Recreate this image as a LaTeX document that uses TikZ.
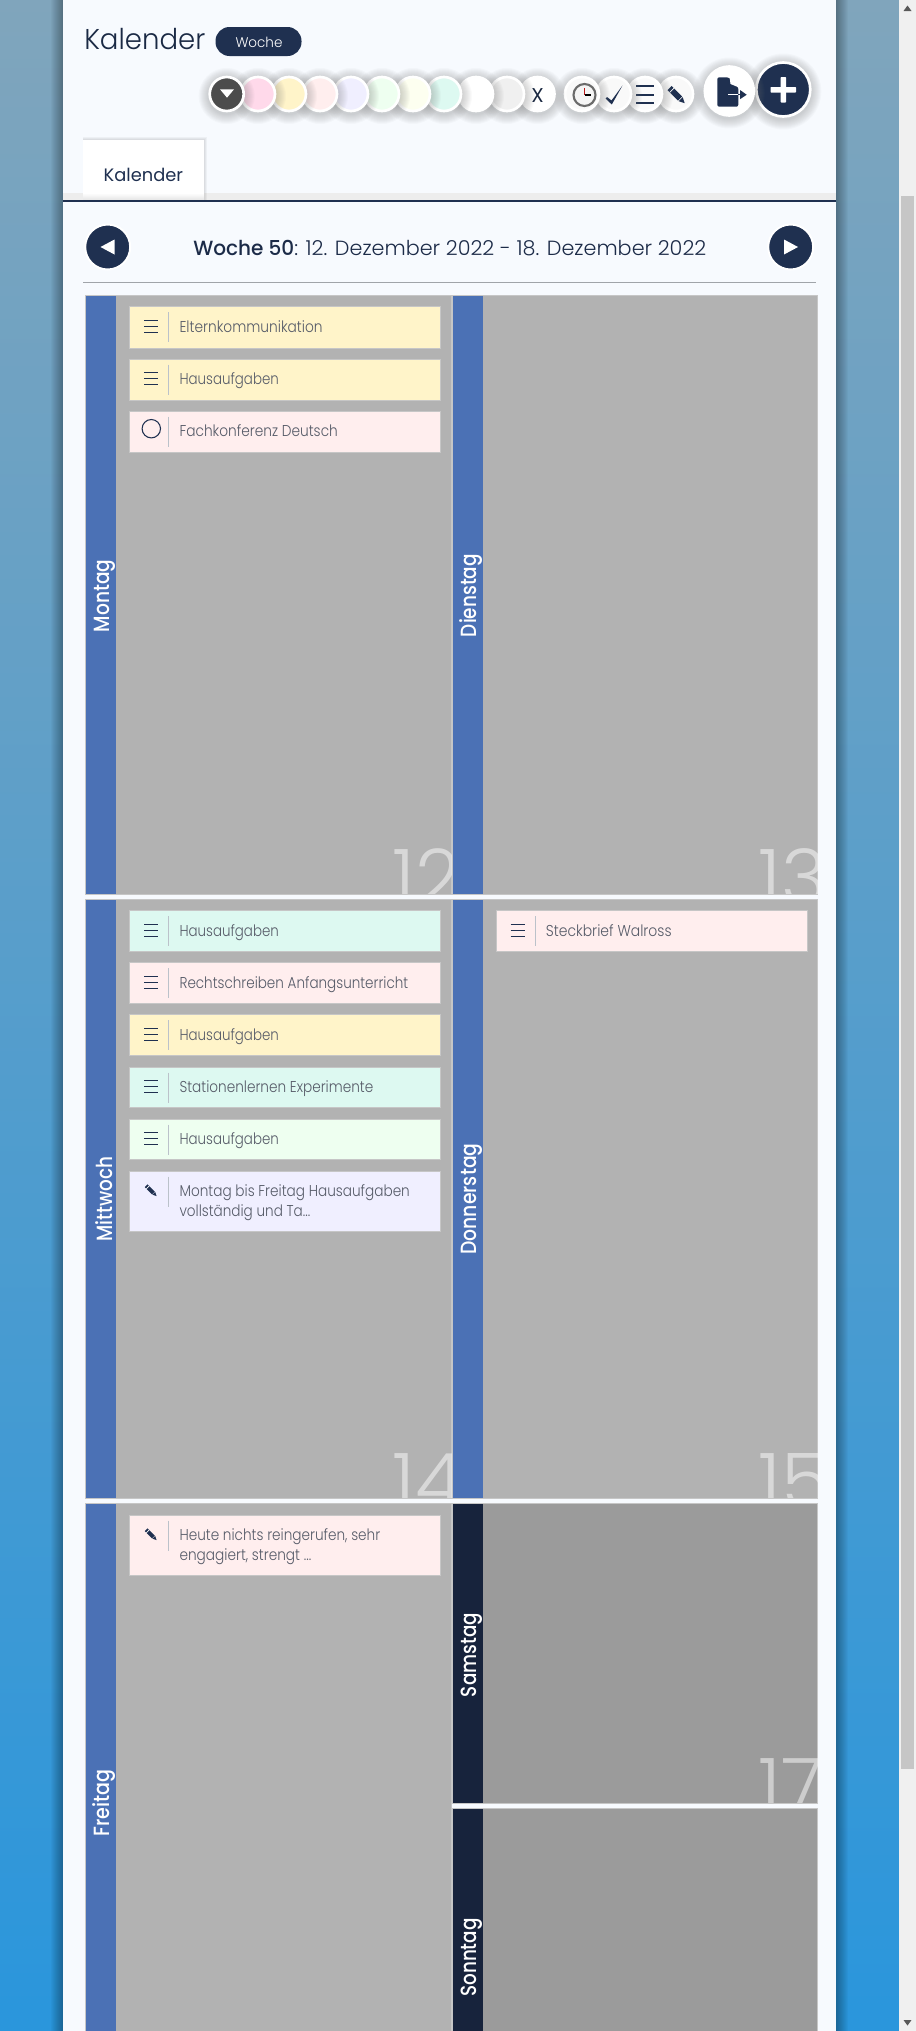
\documentclass[tikz,border=0pt]{standalone}
\usepackage{fontspec}
\usepackage{graphicx}
\setmainfont{Poppins}
\newfontfamily\fl{Poppins Light}
\newfontfamily\fm{Poppins Medium}
\newdimen\pxu \pxu=0.75pt
\newcommand\tw[2]{\resizebox{#1\pxu}{\height}{#2}}
\definecolor{navy}{HTML}{1F3050}
\definecolor{navyd}{HTML}{17233C}
\definecolor{panel}{HTML}{F7FAFE}
\definecolor{bgtop}{HTML}{80A5BC}
\definecolor{bgbot}{HTML}{2A96DC}
\definecolor{sbar}{HTML}{4B71B5}
\definecolor{cellg}{HTML}{B2B2B2}
\definecolor{cellw}{HTML}{9B9B9B}
\definecolor{cellb}{HTML}{C6C6C6}
\definecolor{cyellow}{HTML}{FFF4C9}
\definecolor{crose}{HTML}{FFEEEE}
\definecolor{cteal}{HTML}{DDF9F1}
\definecolor{cmint}{HTML}{EEFFF0}
\definecolor{clav}{HTML}{F0EFFF}
\definecolor{cpink}{HTML}{FFD9EA}
\definecolor{ccream}{HTML}{FDFFF0}
\definecolor{itxt}{HTML}{565B68}
\definecolor{HTMLdiv}{HTML}{BBC2CA}
\tikzset{
  itemb/.style={anchor=north west,inner sep=0pt,draw=cellb,line width=.75pt},
  itxtn/.style={anchor=base west,inner sep=0pt,text=itxt,font=\fl\fontsize{11.8}{13}\selectfont},
  side/.style={rotate=90,inner sep=0pt,text=white,font=\fm\fontsize{16.5}{18}\selectfont},
  digit/.style={anchor=base west,inner sep=0pt,text=white,text opacity=.5,font=\fl\fontsize{58.5}{60}\selectfont},
  tc/.style={circle,inner sep=0pt,draw=white,line width=2pt},
  divl/.style={draw=HTMLdiv,line width=.75pt},
}
% toolbar circle: name, x, y, radius, fill
\newcommand\toolc[5]{%
  \foreach \k in {1,...,10}{\fill[gray,opacity=.038] (#2,#3+2) circle[radius=#4+\k];}
  \node[tc,fill=#5,minimum size={(2*#4-2)*\pxu}] (#1) at (#2,#3) {};
}
% menu icon in a list item
\newcommand\menuicon[2]{%
  \draw[navy,line width=.95pt] (#1-7,#2-6) -- (#1+7,#2-6) (#1-7,#2) -- (#1+7,#2) (#1-7,#2+6) -- (#1+7,#2+6);
}
\newcommand\penicon[3]{%
  \begin{scope}[shift={(#1,#2)},rotate=-45,scale=#3]
    \fill[navy] (-9,-2.6) -- (4.5,-2.6) -- (4.5,2.6) -- (-9,2.6) -- cycle;
    \fill[navy] (5.3,-2.6) -- (5.3,2.6) -- (10.5,0) -- cycle;
    \draw[white,line width=.5pt] (-6,-2.6) -- (-6,2.6);
  \end{scope}
}
% item: name, x left, y top, y bottom, colour
\newcommand\calitem[5]{%
  \node[itemb,fill=#5,minimum width={311.3*\pxu},minimum height={(#4-#3)*\pxu}] (#1) at (#2,#3) {};
  \draw[divl] (#2+39.6,#3+6) -- (#2+39.6,#3+36);
}
\begin{document}
\begin{tikzpicture}[x=0.75pt,y=-0.75pt]
\useasboundingbox (0,0) rectangle (916,2031);
% page background
\shade[top color=bgtop,bottom color=bgbot] (0,0) rectangle (899,2031);
% panel shadow
\foreach \k in {1,...,12}{
  \fill[black,opacity=.028] (63-\k,0) rectangle (836+\k,2031);
}
\fill[panel] (63,0) rectangle (836,2031);
% scrollbar
\fill[gray!12] (899,0) rectangle (916,2031);
\fill[gray!45] (901,196) rectangle (914,1769);
\fill[black!65] (907.5,5.5) -- (911.5,11) -- (903.5,11) -- cycle;
\fill[black!65] (907.5,2025.5) -- (911.5,2020) -- (903.5,2020) -- cycle;
% heading
\node[anchor=base west,inner sep=0pt,text=navy!85!black,font=\fl\fontsize{21.5}{24}\selectfont] (title) at (84,49.5) {\tw{121}{Kalender}};
\node[fill=navy,rounded corners=10.5pt,minimum width={86*\pxu},minimum height={29*\pxu},inner sep=0pt] (pill) at (258.5,41.5) {};
\node[inner sep=0pt,text=white,font=\fl\fontsize{10.5}{12}\selectfont] (pilltxt) at (259,42) {\tw{47}{Woche}};
% toolbar, drawn from right to left
\toolc{plus}{783.3}{89.5}{28}{navy}
\fill[white,rounded corners=.5pt] (770.5,87) rectangle (796,92.5);
\fill[white,rounded corners=.5pt] (780.6,77) rectangle (786.1,102.5);
\toolc{file}{729.3}{91}{25.5}{white}
\fill[navy,rounded corners=1.5pt] (717.3,77.3) -- (729,77.3) -- (738.3,87) -- (738.3,106.7) -- (717.3,106.7) -- cycle;
\fill[white] (729.5,76.5) -- (730.5,84) -- (739,87.5) -- (739,85) -- (732,76.5) -- cycle;
\draw[white,line width=1.2pt] (728,94.5) -- (738.3,94.5);
\draw[navy,line width=1.2pt] (738.3,94.5) -- (741,94.5);
\fill[navy] (740,90) -- (746.7,94.7) -- (740,99.2) -- cycle;
\toolc{pen}{676}{94}{18}{white!95!gray}
\penicon{676.5}{95}{1.1}
\toolc{lines}{645}{94}{18}{white!97!gray}
\draw[navy,line width=1.5pt] (636,86) -- (654.3,86) (636,94.5) -- (654.3,94.5) (636,103) -- (654.3,103);
\toolc{check}{614}{94}{18}{white!95!gray}
\fill[navy] (605.5,98.5) -- (607,97) -- (611.5,100.5) -- (622.5,85.5) -- (611.8,104.5) -- cycle;
\toolc{clock}{582}{94}{18}{white!95!gray}
\draw[black!58,line width=1.6pt,fill=white!92!gray] (584.5,95) circle[radius=11];
\draw[red!70!black!90,line width=1.1pt] (584.5,88) -- (584.5,94.5);
\draw[black,line width=1pt] (584.5,95) -- (591,95);
\toolc{xbtn}{537.5}{94}{18}{white}
\node[inner sep=0pt,text=navy!80!black,font=\fontsize{15}{16}\selectfont] (xtxt) at (537.5,95.5) {X};
\toolc{t9}{507}{94}{18}{gray!12}
\toolc{t8}{476}{94}{18}{white}
\toolc{t7}{444}{94}{18}{cteal}
\toolc{t6}{413}{94}{18}{ccream}
\toolc{t5}{382}{94}{18}{cmint}
\toolc{t4}{351}{94}{18}{clav}
\toolc{t3}{320}{94}{18}{crose}
\toolc{t2}{289}{94}{18}{cyellow}
\toolc{t1}{258}{94}{18}{cpink}
\toolc{t0}{226.7}{94}{18}{black!70}
\fill[white] (220,89.3) -- (234,89.3) -- (227,97.7) -- cycle;
% tabs
\fill[gray!14] (63,193) rectangle (836,200.5);
\foreach \k in {1,...,3}{\fill[black,opacity=.04] (83,140-\k) rectangle (204+\k,200.5);}
\fill[white] (83,140) rectangle (204,193);
\shade[top color=white,bottom color=gray!22] (83,193) rectangle (204,200.5);
\node[anchor=base west,inner sep=0pt,text=navy,font=\fontsize{13.5}{16}\selectfont] (tabtxt) at (103.4,181.5) {\tw{79.4}{Kalender}};
\draw[navy,line width=.85pt] (63,201) -- (836,201);
% week navigation
\node[circle,fill=navy,draw=white,line width=1.5pt,minimum size={45*\pxu},inner sep=0pt] (prev) at (107.7,247) {};
\fill[white] (114.5,239.5) -- (114.5,254.5) -- (100.5,247) -- cycle;
\node[circle,fill=navy,draw=white,line width=1.5pt,minimum size={45*\pxu},inner sep=0pt] (next) at (790.7,247) {};
\fill[white] (784,239.5) -- (784,254.5) -- (798,247) -- cycle;
\node[anchor=base west,inner sep=0pt,text=navy!90!black,font=\fm\fontsize{15.4}{18}\selectfont] (wk) at (193,255) {\tw{101}{Woche 50}};
\node[anchor=base west,inner sep=0pt,text=navy!90!black,font=\fl\fontsize{15.4}{18}\selectfont] (wkd) at (294,255) {\tw{412}{: 12. Dezember 2022 - 18. Dezember 2022}};
\draw[gray!45!HTMLdiv,line width=.9pt] (83,282.5) -- (816,282.5);
% cells
\fill[cellg,draw=cellb,line width=.75pt] (85.5,295.5) rectangle (451.5,894);
\fill[cellg,draw=cellb,line width=.75pt] (452.5,295.5) rectangle (817,894);
\fill[cellg,draw=cellb,line width=.75pt] (85.5,899.5) rectangle (451.5,1498);
\fill[cellg,draw=cellb,line width=.75pt] (452.5,899.5) rectangle (817,1498);
\fill[cellg,draw=cellb,line width=.75pt] (85.5,1503.5) rectangle (451.5,2040);
\fill[cellw,draw=cellb,line width=.75pt] (452.5,1503.5) rectangle (817,1803);
\fill[cellw,draw=cellb,line width=.75pt] (452.5,1808.5) rectangle (817,2040);
% side bars
\fill[sbar] (86,296) rectangle (116,894);
\fill[sbar] (453,296) rectangle (483,894);
\fill[sbar] (86,900) rectangle (116,1498);
\fill[sbar] (453,900) rectangle (483,1498);
\fill[sbar] (86,1504) rectangle (116,2031);
\fill[navyd] (453,1504) rectangle (483,1803);
\fill[navyd] (453,1809) rectangle (483,2031);
\node[side] (mo) at (104.5,596) {\tw{72.5}{Montag}};
\node[side] (di) at (471.5,595.5) {\tw{83}{Dienstag}};
\node[side] (mi) at (104.5,1199) {\tw{84.7}{Mittwoch}};
\node[side] (do) at (471.5,1199) {\tw{111}{Donnerstag}};
\node[side] (fr) at (104.5,1803) {\tw{67}{Freitag}};
\node[side] (sa) at (471.5,1655) {\tw{84}{Samstag}};
\node[side] (so) at (471.5,1957.5) {\tw{78.5}{Sonntag}};
% big day numbers, cut off by their cells
\begin{scope}\clip (116,296) rectangle (451,893.5);
  \node[digit] (n12) at (392,905) {12};\end{scope}
\begin{scope}\clip (483,296) rectangle (817,893.5);
  \node[digit] (n13) at (758,905) {13};\end{scope}
\begin{scope}\clip (116,900) rectangle (451,1497.5);
  \node[digit] (n14) at (392,1509) {14};\end{scope}
\begin{scope}\clip (483,900) rectangle (817,1497.5);
  \node[digit] (n15) at (758,1509) {15};\end{scope}
\begin{scope}\clip (483,1504) rectangle (817,1802.5);
  \node[digit] (n17) at (758,1814) {17};\end{scope}
% Monday
\calitem{a1}{128.7}{306.3}{348}{cyellow}
\menuicon{151}{326.5}
\node[itxtn] (a1t) at (179.3,332.3) {\tw{143}{Elternkommunikation}};
\calitem{a2}{128.7}{358.7}{399.6}{cyellow}
\menuicon{151}{378.5}
\node[itxtn] (a2t) at (179.3,384.7) {\tw{99.3}{Hausaufgaben}};
\calitem{a3}{128.7}{410.5}{451.7}{crose}
\draw[navy,line width=.8pt] (151.3,428.7) circle[radius=9.2];
\node[itxtn] (a3t) at (179.3,436.5) {\tw{158.3}{Fachkonferenz Deutsch}};
% Wednesday
\calitem{c1}{128.7}{910.3}{951.2}{cteal}
\menuicon{151}{930.5}
\node[itxtn] (c1t) at (179.3,936.3) {\tw{99.3}{Hausaufgaben}};
\calitem{c2}{128.7}{962.3}{1003.3}{crose}
\menuicon{151}{982.5}
\node[itxtn] (c2t) at (179.3,988.3) {\tw{228.7}{Rechtschreiben Anfangsunterricht}};
\calitem{c3}{128.7}{1014.3}{1055.3}{cyellow}
\menuicon{151}{1034.5}
\node[itxtn] (c3t) at (179.3,1040.3) {\tw{99.3}{Hausaufgaben}};
\calitem{c4}{128.7}{1066.7}{1106.9}{cteal}
\menuicon{151}{1086.5}
\node[itxtn] (c4t) at (179.3,1092.5) {\tw{193.7}{Stationenlernen Experimente}};
\calitem{c5}{128.7}{1118.7}{1159.3}{cmint}
\menuicon{151}{1138.5}
\node[itxtn] (c5t) at (179.3,1144.7) {\tw{99.3}{Hausaufgaben}};
\calitem{c6}{128.7}{1170.7}{1231.3}{clav}
\penicon{151}{1190.5}{.75}
\node[itxtn] (c6t) at (179.3,1196.7) {\tw{230.3}{Montag bis Freitag Hausaufgaben}};
\node[itxtn] (c6u) at (179.3,1216.7) {\tw{130.7}{vollständig und Ta...}};
% Thursday
\calitem{d1}{495.7}{910.3}{951.2}{crose}
\menuicon{517.7}{930.5}
\node[itxtn] (d1t) at (545.7,936.3) {\tw{125.7}{Steckbrief Walross}};
% Friday
\calitem{e1}{128.7}{1514.7}{1575}{crose}
\penicon{151}{1534.5}{.75}
\node[itxtn] (e1t) at (179.3,1540.7) {\tw{200.7}{Heute nichts reingerufen, sehr}};
\node[itxtn] (e1u) at (179.3,1560.7) {\tw{131.7}{engagiert, strengt ...}};
\end{tikzpicture}
\end{document}
